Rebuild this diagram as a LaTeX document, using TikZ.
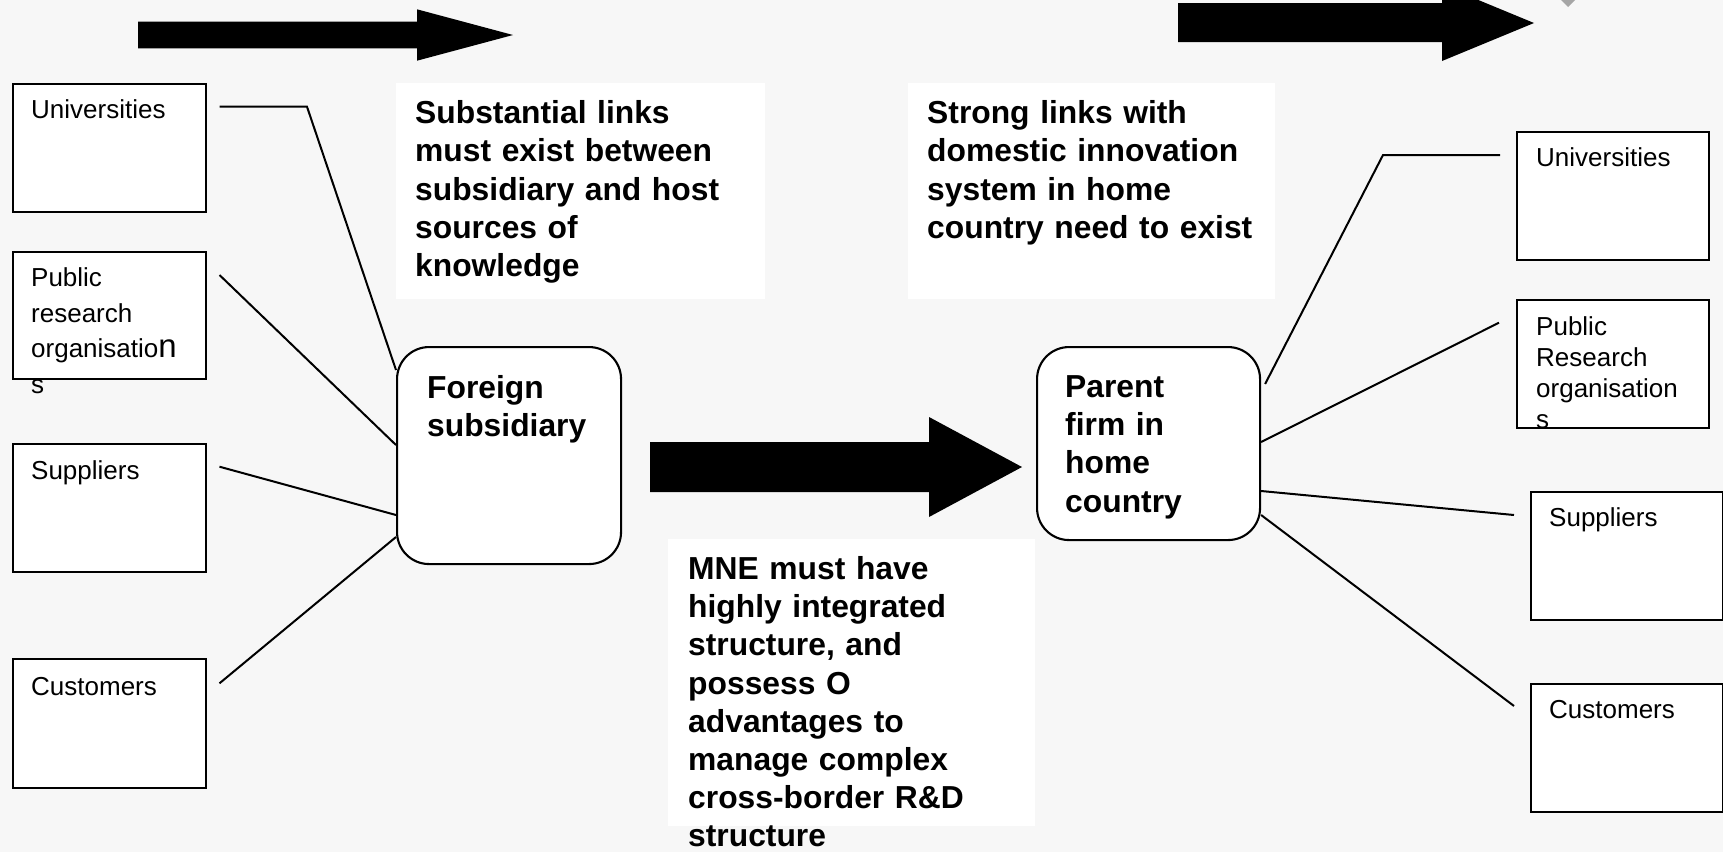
\documentclass[tikz,border=0pt]{standalone}
\usepackage{fontspec}
\setmainfont{Liberation Sans}
\usetikzlibrary{calc}
\definecolor{bg}{HTML}{F7F7F7}
\begin{document}
\begin{tikzpicture}[x=1pt,y=-1pt,
  sbox/.style={draw, line width=2.1pt, fill=white, anchor=north west, inner sep=0pt, minimum width=193pt, minimum height=128pt},
  rbox/.style={draw, line width=2.1pt, fill=white, rounded corners=32pt, anchor=north west, inner sep=0pt},
  tbox/.style={fill=white, anchor=north west, inner sep=0pt},
  stext/.style={anchor=base west, inner sep=0pt, text width=190pt, align=left, font=\fontsize{26}{35.5}\selectfont},
  btext/.style={anchor=base west, inner sep=0pt, text width=345pt, align=left, font=\bfseries\fontsize{31.8}{38.4}\selectfont},
  conn/.style={line width=2pt},
  bigarrow/.style={fill=black}
]
\useasboundingbox (0,0) rectangle (1723,852);
\fill[bg] (0,0) rectangle (1723,852);

% big block arrows
\fill[bigarrow] (138,21.7) -- (417,21.7) -- (417,9.3) -- (513,35) -- (417,60.7) -- (417,48.3) -- (138,48.3) -- cycle;
\fill[bigarrow] (1178,3) -- (1442,3) -- (1442,-15) -- (1534,23) -- (1442,61) -- (1442,42) -- (1178,42) -- cycle;
\fill[bigarrow] (650,442) -- (929,442) -- (929,417) -- (1022,467) -- (929,517) -- (929,492) -- (650,492) -- cycle;
\fill[gray!70] (1561,0) -- (1568,7) -- (1575,0) -- cycle;

% text boxes
\node[tbox, minimum width=369pt, minimum height=216pt] (T1) at (396,83) {};
\node[tbox, minimum width=367pt, minimum height=216pt] (T2) at (908,83) {};
\node[tbox, minimum width=367pt, minimum height=287pt] (T3) at (668,539) {};
\node[btext] (T1t) at (415,123.3) {Substantial links\\must exist between\\subsidiary and host\\sources of\\knowledge};
\node[btext] (T2t) at (927,123.3) {Strong links with\\domestic innovation\\system in home\\country need to exist};
\node[btext, font=\bfseries\fontsize{31.8}{38.2}\selectfont] (T3t) at (688,579.5) {MNE must have\\highly integrated\\structure, and\\possess O\\advantages to\\manage complex\\cross-border R\&D\\structure};

% left boxes
\node[sbox] (LU) at (11.5,83) {};
\node[sbox, minimum height=127pt] (LP) at (11.5,251) {};
\node[sbox] (LS) at (11.5,443) {};
\node[sbox, minimum height=129pt] (LC) at (11.5,658) {};
\node[stext] (LUt) at (31,118) {Universities};
\node[stext] (LPt) at (31,286.7) {Public\\research\\organisatio{\fontsize{33}{35.5}\selectfont n}\\s};
\node[stext] (LSt) at (31,479) {Suppliers};
\node[stext] (LCt) at (31,695) {Customers};

% right boxes
\node[sbox, minimum width=192pt] (RU) at (1516,131) {};
\node[sbox, minimum width=192pt] (RP) at (1516,299) {};
\node[sbox, minimum width=192pt] (RS) at (1530,491) {};
\node[sbox, minimum width=192pt] (RC) at (1530,683) {};
\node[stext] (RUt) at (1536,166) {Universities};
\node[stext, font=\fontsize{26}{31}\selectfont] (RPt) at (1536,335) {Public\\Research\\organisation\\s};
\node[stext] (RSt) at (1549,526.7) {Suppliers};
\node[stext] (RCt) at (1549,718) {Customers};

% central rounded boxes
\node[rbox, minimum width=224pt, minimum height=217pt] (FS) at (396,346) {};
\node[rbox, minimum width=223pt, minimum height=193pt] (PF) at (1036,346) {};
\node[btext] (FSt) at (427,398) {Foreign\\subsidiary};
\node[btext] (PFt) at (1065,397) {Parent\\firm in\\home\\country};

% connector free ends
\coordinate (lu1) at (219.5,106.7);
\coordinate (lu2) at (307,106.7);
\coordinate (lp1) at (219.5,275);
\coordinate (ls1) at (219.5,466.7);
\coordinate (lc1) at (219.5,683.3);
\coordinate (ru1) at (1500,155);
\coordinate (ru2) at (1383,155);
\coordinate (rp1) at (1499,322.7);
\coordinate (rs1) at (1514,515);
\coordinate (rc1) at (1514,706);

% connectors
\draw[conn] (lu1) -- (lu2) -- ($(FS.north west)+(0,24)$);
\draw[conn] (lp1) -- ($(FS.north west)+(0,99)$);
\draw[conn] (ls1) -- ($(FS.north west)+(0,169)$);
\draw[conn] (lc1) -- ($(FS.north west)+(0,191)$);
\draw[conn] (ru1) -- (ru2) -- ($(PF.north east)+(4,38)$);
\draw[conn] (rp1) -- ($(PF.north east)+(0,96)$);
\draw[conn] (rs1) -- ($(PF.north east)+(0,145)$);
\draw[conn] (rc1) -- ($(PF.north east)+(0,169)$);
\end{tikzpicture}
\end{document}
